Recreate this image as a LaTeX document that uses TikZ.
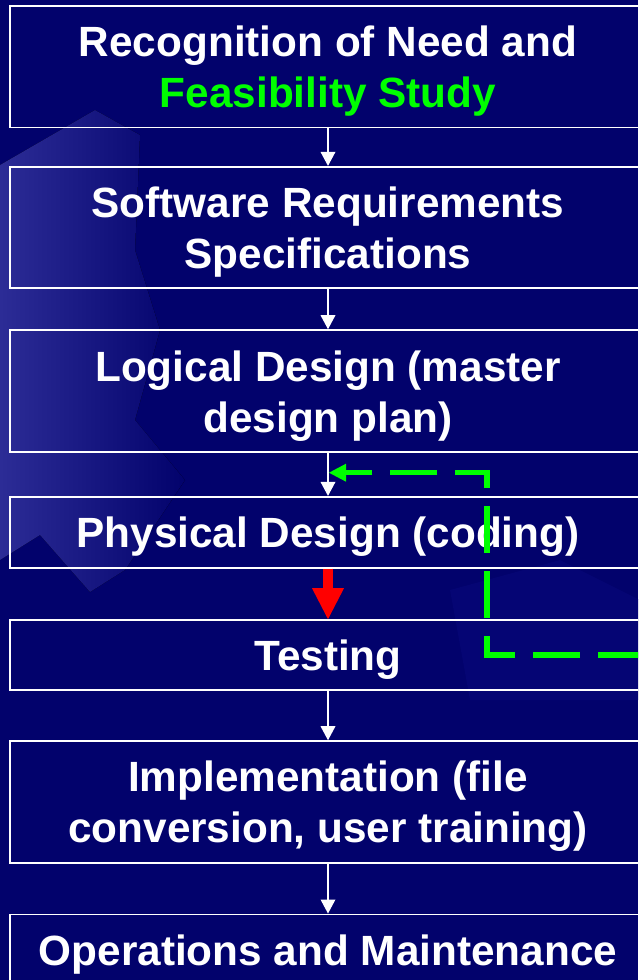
\documentclass[tikz,border=0pt]{standalone}
\usepackage{fontspec}
\setmainfont{Liberation Sans}
\usetikzlibrary{arrows.meta}

\definecolor{navy}{RGB}{2,2,108}
\definecolor{navylight}{RGB}{44,44,150}
\definecolor{navysoft}{RGB}{5,5,116}
\definecolor{fbgreen}{RGB}{0,255,0}
\definecolor{alarmred}{RGB}{255,0,0}

% fixed line height/depth so every text block centres on its baselines
\newcommand{\tstrut}{\rule[-6.6pt]{0pt}{46.6pt}}

\begin{document}
\begin{tikzpicture}[x=1pt, y=-1pt,
  stage/.style={draw=white, line width=1.6pt, rectangle,
                minimum width=636pt, inner sep=0pt},
  stagetext/.style={text=white, align=center, inner sep=0pt,
                    font=\bfseries\fontsize{42.3pt}{51pt}\selectfont},
  flow/.style={draw=white, line width=1.5pt,
               -{Triangle[width=15pt, length=14pt, line width=0pt]}},
  alarm/.style={draw=alarmred, line width=10.7pt, line cap=butt,
                -{Triangle[width=32pt, length=31pt, line width=0pt]}},
  feedback/.style={draw=fbgreen, line width=5.5pt, line cap=butt,
                   line join=miter, dash pattern=on 47pt off 18pt,
                   -{Triangle[width=18pt, length=17pt, line width=0pt]}}
]
\useasboundingbox (0,0) rectangle (638,980);
\clip (0,0) rectangle (638,980);

% background with the soft lighter shape on the left
\fill[navy] (0,0) rectangle (638,980);
\fill[left color=navylight, right color=navy]
  (0,165) -- (95,110) -- (140,135) -- (135,250) -- (160,330) -- (135,420)
  -- (185,480) -- (125,570) -- (90,592) -- (40,535) -- (0,560) -- cycle;
\fill[navysoft] (450,590) -- (560,560) -- (640,600) -- (640,700) -- (470,700) -- cycle;

% stage boxes
\node[stage, minimum height=121.5pt] (b1) at (328,66.75) {};
\node[stage, minimum height=121pt]   (b2) at (328,227.2) {};
\node[stage, minimum height=122pt]   (b3) at (328,391) {};
\node[stage, minimum height=71pt]    (b4) at (328,532.2) {};
\node[stage, minimum height=70pt]    (b5) at (328,655) {};
\node[stage, minimum height=121.7pt] (b6) at (328,801.85) {};
\node[stage, minimum height=70.7pt]  (b7) at (328,949.65) {};

% stage captions
\node[stagetext] (t1) at (b1.center) {\tstrut Recognition of Need and\\\tstrut\textcolor{fbgreen}{Feasibility Study}};
\node[stagetext] (t2) at (b2.center) {\tstrut Software Requirements\\\tstrut Specifications};
\node[stagetext] (t3) at (b3.center) {\tstrut Logical Design (master\\\tstrut design plan)};
\node[stagetext] (t4) at (b4.center) {\tstrut Physical Design (coding)};
\node[stagetext] (t5) at (b5.center) {\tstrut Testing};
\node[stagetext] (t6) at (b6.center) {\tstrut Implementation (file\\\tstrut conversion, user training)};
\node[stagetext] (t7) at (b7.center) {\tstrut Operations and Maintenance};

% flow between stages
\draw[flow]  (b1) -- (b2);
\draw[flow]  (b2) -- (b3);
\draw[flow]  (b3) -- (b4);
\draw[alarm] (b4) -- (b5);
\draw[flow]  (b5) -- (b6);
\draw[flow]  (b6) -- (b7);

% feedback loop from testing back to design
\coordinate (fbstart) at (645,655);
\coordinate (fbturn)  at (487,655);
\coordinate (fbend)   at (329,472.7);
\draw[feedback] (fbstart) -- (fbturn) |- (fbend);
\end{tikzpicture}
\end{document}
